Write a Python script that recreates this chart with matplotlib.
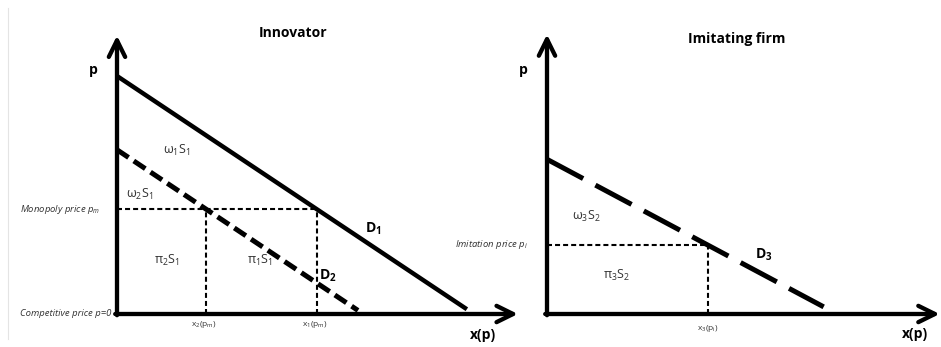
import matplotlib
matplotlib.use("Agg")
import matplotlib.pyplot as plt
from matplotlib.lines import Line2D

plt.rcParams["font.family"] = ["Open Sans", "DejaVu Sans"]
plt.rcParams["mathtext.fontset"] = "custom"
plt.rcParams["mathtext.rm"] = "Open Sans"
plt.rcParams["mathtext.it"] = "Open Sans:italic"
plt.rcParams["mathtext.bf"] = "Open Sans:bold"
plt.rcParams["lines.scale_dashes"] = False

# innovator demand curves (x, p)
d1_x = [0.0, 9.8]
d1_p = [10.0, 0.2]
d2_x = [0.0, 6.75]
d2_p = [6.9, 0.15]
p_m = 4.4
x1_pm = 5.6
x2_pm = 2.5

# imitating firm
d3_x = [0.0, 7.75]
d3_p = [6.5, 0.3]
p_i = 2.9
x3_pi = 4.5

W, H = 941, 347
fig = plt.figure(figsize=(W / 100, H / 100), dpi=100)

# faint page edge on the left
fig.add_artist(Line2D([7.5 / W, 7.5 / W], [8 / H, 1 - 8 / H],
                      color="#e4e4e4", lw=0.8))

# pixels per unit, same for both panels
sx, sy = 35.7, 23.8
y0 = 314  # pixel row of p = 0


def panel(left_px, right_px, origin_px):
    ax = fig.add_axes([left_px / W, 0, (right_px - left_px) / W, 1])
    ax.set_xlim((left_px - origin_px) / sx, (right_px - origin_px) / sx)
    ax.set_ylim(-(H - y0) / sy, y0 / sy)
    ax.axis("off")
    return ax


def axes_arrows(ax, x_tip, y_tip):
    kw = dict(arrowstyle="->,head_length=0.85,head_width=0.42", lw=3.1,
              color="black", shrinkA=0, shrinkB=0, mutation_scale=14)
    ax.annotate("", xy=(0, y_tip), xytext=(0, -0.05), arrowprops=kw,
                annotation_clip=False)
    ax.annotate("", xy=(x_tip, 0), xytext=(-0.05, 0), arrowprops=kw,
                annotation_clip=False)


dot = dict(color="black", lw=1.5, dashes=(3.6, 2.2))
lab = dict(fontsize=9, color="#333333", ha="center", va="center")
small = dict(fontsize=6, color="#333333", ha="center", va="center")
side = dict(fontsize=6.8, color="#333333", ha="right", va="center", style="italic")
bold = dict(fontsize=10, fontweight="bold", ha="center", va="center")

# ---- Innovator ----
ax = panel(0, 530, 117)
axes_arrows(ax, 11.23, 11.7)
ax.plot(d1_x, d1_p, color="black", lw=3.2, solid_capstyle="butt")
ax.plot(d2_x, d2_p, color="black", lw=3.6, dashes=(10, 4.5))
ax.plot([0, x1_pm], [p_m, p_m], **dot)
ax.plot([x2_pm, x2_pm], [0, p_m], **dot)
ax.plot([x1_pm, x1_pm], [0, p_m], **dot)

ax.text(4.93, 11.81, "Innovator", **bold)
ax.text(-0.67, 10.25, "p", **bold)
ax.text(1.68, 6.89, r"$\mathrm{\omega_1S_1}$", **lab)
ax.text(0.64, 5.04, r"$\mathrm{\omega_2S_1}$", **lab)
ax.text(1.40, 2.23, r"$\mathrm{\pi_2S_1}$", **lab)
ax.text(4.0, 2.23, r"$\mathrm{\pi_1S_1}$", **lab)
ax.text(7.17, 3.57, r"$\mathbf{D_1}$", **bold)
ax.text(5.91, 1.60, r"$\mathbf{D_2}$", **bold)
ax.text(-0.48, p_m, r"Monopoly price $p_m$", **side)
ax.text(-0.17, 0, "Competitive price p=0", **side)
ax.text(x2_pm - 0.07, -0.46, r"$\mathrm{x_2(p_m)}$", **small)
ax.text(x1_pm - 0.07, -0.46, r"$\mathrm{x_1(p_m)}$", **small)
ax.text(10.25, -0.88, "x(p)", **bold)

# ---- Imitating firm ----
ax = panel(530, 941, 547)
axes_arrows(ax, 11.0, 11.75)
ax.plot(d3_x, d3_p, color="black", lw=3.6, dashes=(29.5, 10))
ax.plot([0, x3_pi], [p_i, p_i], **dot)
ax.plot([x3_pi, x3_pi], [0, p_i], **dot)

ax.text(5.32, 11.55, "Imitating firm", **bold)
ax.text(-0.67, 10.25, "p", **bold)
ax.text(1.09, 4.08, r"$\mathrm{\omega_3S_2}$", **lab)
ax.text(1.96, 1.60, r"$\mathrm{\pi_3S_2}$", **lab)
ax.text(6.08, 2.48, r"$\mathbf{D_3}$", **bold)
ax.text(-0.53, p_i, r"Imitation price $p_i$", **side)
ax.text(x3_pi, -0.59, r"$\mathrm{x_3(p_i)}$", **small)
ax.text(10.31, -0.84, "x(p)", **bold)

fig.savefig("out.png", dpi=100)
